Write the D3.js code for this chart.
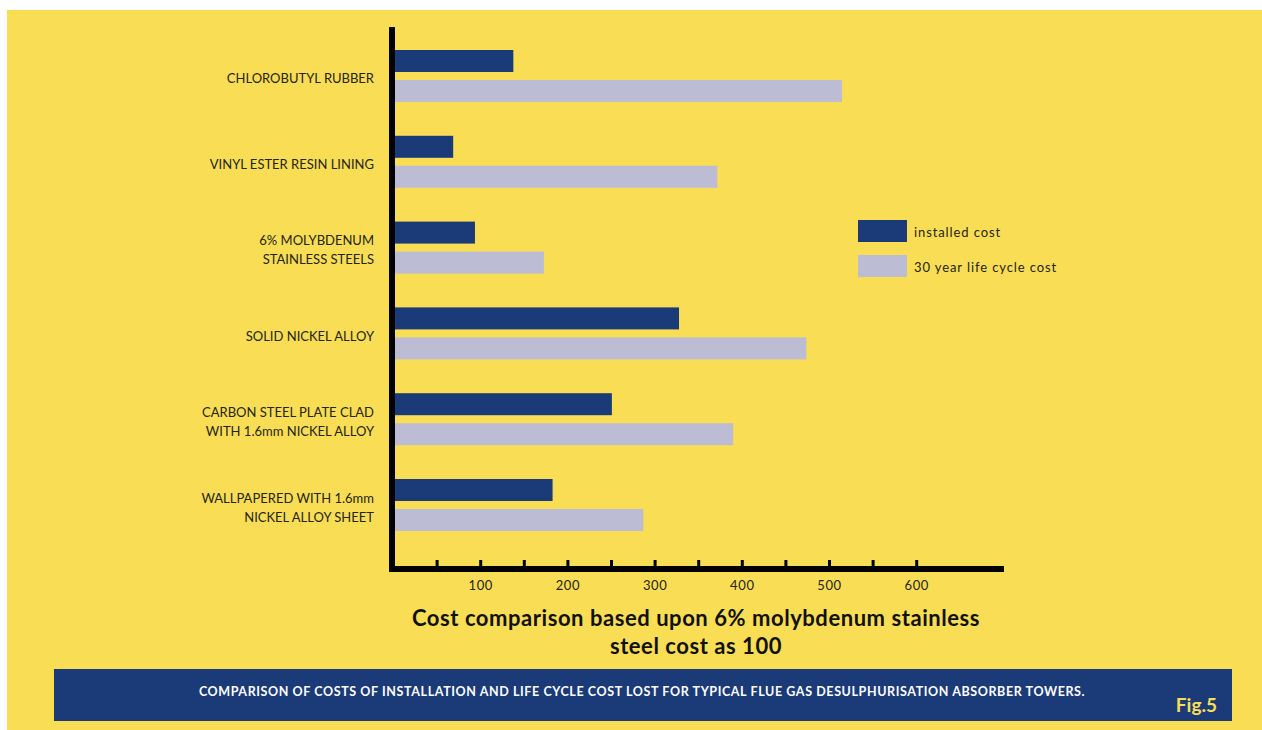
<!DOCTYPE html>
<html>
<head>
<meta charset="utf-8">
<script src="https://cdn.jsdelivr.net/npm/d3@7"></script>
<style>
  html, body { margin: 0; padding: 0; background: #ffffff; }
  svg { display: block; }
</style>
</head>
<body>
<svg id="chart" width="1262" height="730"></svg>
<script>
// Materials compared (label lines as printed)
const categories = [
  ["CHLOROBUTYL RUBBER"],
  ["VINYL ESTER RESIN LINING"],
  ["6% MOLYBDENUM", "STAINLESS STEELS"],
  ["SOLID NICKEL ALLOY"],
  ["CARBON STEEL PLATE CLAD", "WITH 1.6mm NICKEL ALLOY"],
  ["WALLPAPERED WITH 1.6mm", "NICKEL ALLOY SHEET"]
];
// Relative costs (6% Mo stainless installed cost = 100)
const installedCost = [138, 69, 94, 328, 251, 183];
const lifeCycleCost = [515, 372, 173, 474, 390, 287];
const seriesNames = ["installed cost", "30 year life cycle cost"];
const tickValues = [50, 100, 150, 200, 250, 300, 350, 400, 450, 500, 550, 600];
const tickLabels = ["", "100", "", "200", "", "300", "", "400", "", "500", "", "600"];
const axisTitle = ["Cost comparison based upon 6% molybdenum stainless", "steel cost as 100"];
const caption = "COMPARISON OF COSTS OF INSTALLATION AND LIFE CYCLE COST LOST FOR TYPICAL FLUE GAS DESULPHURISATION ABSORBER TOWERS.";
const figLabel = "Fig.5";

const YELLOW = "#f8dd55";
const NAVY = "#1b3b78";
const LAVENDER = "#bcbcd4";
const INK = "#26241a";
const FONT = "Lato, 'Noto Sans', sans-serif";

const svg = d3.select("#chart");

// Yellow panel
svg.append("rect").attr("x", 7).attr("y", 10).attr("width", 1255).attr("height", 720).attr("fill", YELLOW);

const x = d3.scaleLinear().domain([0, 700]).range([393, 1003.4]);
const keys = categories.map((c, i) => i);
const y = d3.scaleBand().domain(keys).range([50, 531]).paddingInner(0.394).paddingOuter(0);
const ySub = d3.scaleBand().domain([0, 1]).range([0, y.bandwidth()]).paddingInner(0.2667).paddingOuter(0);
const colors = [NAVY, LAVENDER];

const rows = keys.map(i => ({ i, values: [installedCost[i], lifeCycleCost[i]] }));

const groups = svg.append("g").selectAll("g").data(rows).join("g")
  .attr("transform", d => `translate(0,${y(d.i)})`);

groups.selectAll("rect").data(d => d.values.map((v, s) => ({ v, s }))).join("rect")
  .attr("x", x(0))
  .attr("y", d => ySub(d.s))
  .attr("width", d => x(d.v) - x(0))
  .attr("height", ySub.bandwidth())
  .attr("fill", d => colors[d.s]);

// Category labels
svg.append("g").selectAll("text").data(rows).join("text")
  .attr("x", 374)
  .attr("y", d => y(d.i) + y.bandwidth() / 2)
  .attr("text-anchor", "end")
  .attr("font-family", FONT)
  .attr("font-size", 13)
  .attr("fill", INK)
  .each(function (d) {
    const lines = categories[d.i];
    const t = d3.select(this);
    lines.forEach((ln, k) => {
      t.append("tspan")
        .attr("x", 374)
        .attr("dy", k === 0 ? ((-(lines.length - 1) * 19) / 2 + 7.4) : 19)
        .text(ln);
    });
  });

// Tick marks and labels along the bottom
const xAxis = d3.axisBottom(x)
  .tickValues(tickValues)
  .tickSizeInner(-6)
  .tickSizeOuter(0)
  .tickPadding(15)
  .tickFormat((d, i) => tickLabels[i]);

const ax = svg.append("g").attr("transform", "translate(0,566)").call(xAxis);
ax.select(".domain").remove();
ax.selectAll(".tick line").attr("stroke", "#000").attr("stroke-width", 3);
ax.selectAll(".tick text")
  .attr("fill", INK)
  .attr("font-family", FONT)
  .attr("font-size", 13)
  .attr("letter-spacing", 0.6);

// Axis lines
svg.append("rect").attr("x", 389).attr("y", 27).attr("width", 6).attr("height", 545).attr("fill", "#000");
svg.append("rect").attr("x", 389).attr("y", 566).attr("width", 615).attr("height", 6).attr("fill", "#000");

// Axis title
svg.append("text")
  .attr("text-anchor", "middle")
  .attr("font-family", FONT)
  .attr("font-weight", "bold")
  .attr("font-size", 22)
  .attr("letter-spacing", 0.55)
  .attr("fill", "#111")
  .selectAll("tspan").data(axisTitle).join("tspan")
  .attr("x", 696)
  .attr("y", (d, i) => 626 + i * 28)
  .text(d => d);

// Legend
const legend = svg.append("g").attr("transform", "translate(858,220)");
const li = legend.selectAll("g").data(seriesNames).join("g")
  .attr("transform", (d, i) => `translate(0,${i * 35})`);
li.append("rect").attr("width", 49).attr("height", 22).attr("fill", (d, i) => colors[i]);
li.append("text")
  .attr("x", 56).attr("y", 17)
  .attr("font-family", FONT)
  .attr("font-size", 13)
  .attr("letter-spacing", 0.9)
  .attr("fill", INK)
  .text(d => d);

// Caption box
svg.append("rect").attr("x", 54).attr("y", 669).attr("width", 1178).attr("height", 52).attr("fill", NAVY);
svg.append("text")
  .attr("x", 642).attr("y", 696)
  .attr("text-anchor", "middle")
  .attr("font-family", FONT)
  .attr("font-weight", "bold")
  .attr("font-size", 12.5)
  .attr("letter-spacing", 0.6)
  .attr("fill", "#ffffff")
  .text(caption);
svg.append("text")
  .attr("x", 1217).attr("y", 712)
  .attr("text-anchor", "end")
  .attr("font-family", FONT)
  .attr("font-weight", "bold")
  .attr("font-size", 19)
  .attr("fill", YELLOW)
  .text(figLabel);
</script>
</body>
</html>
